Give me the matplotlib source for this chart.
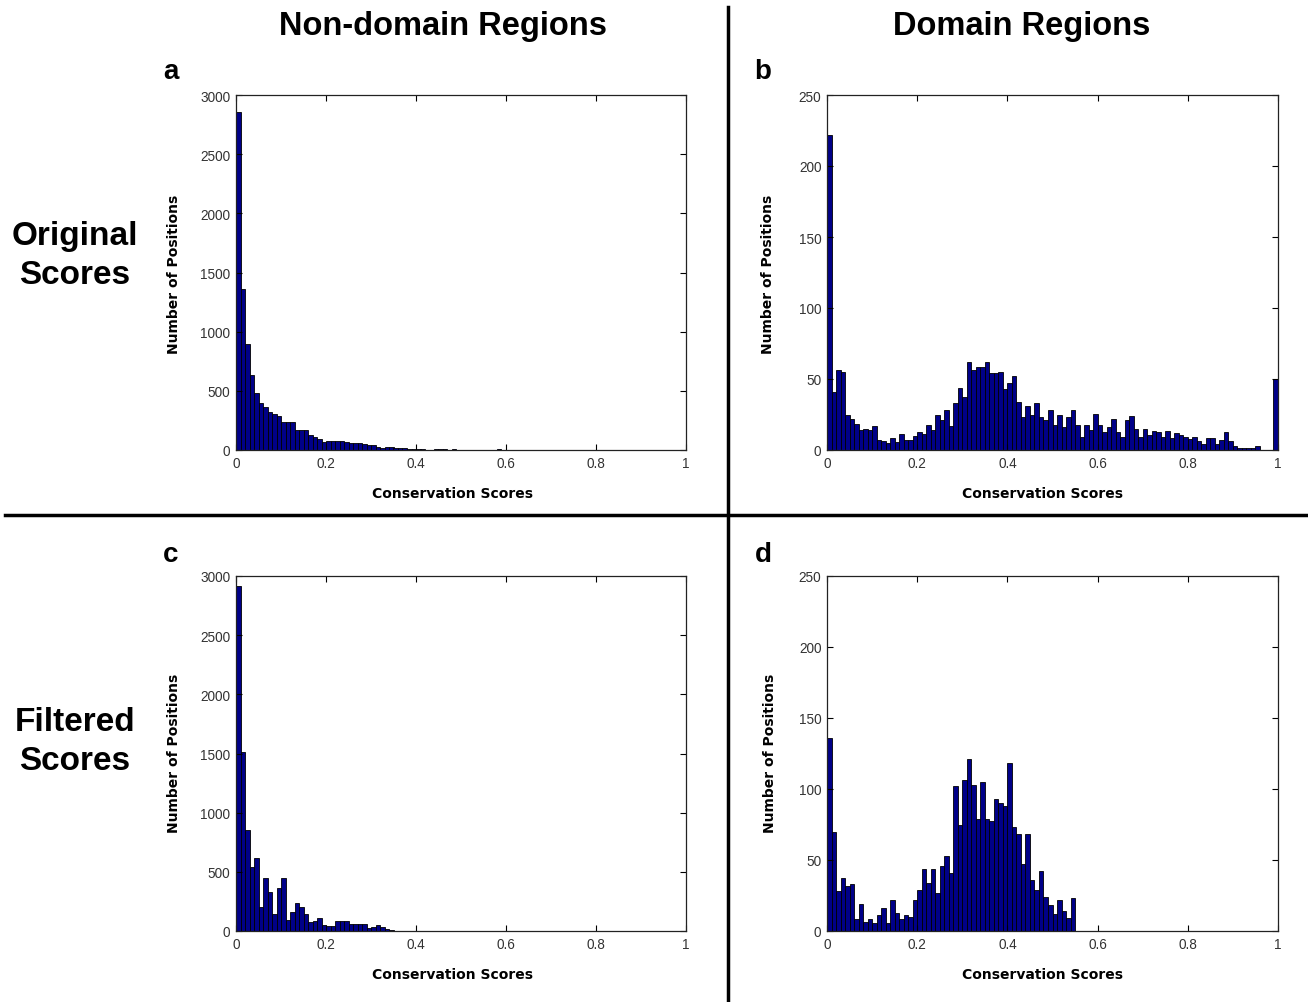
import numpy as np
import matplotlib
matplotlib.use("Agg")
import matplotlib.pyplot as plt
from matplotlib.lines import Line2D

plt.rcParams['font.family'] = ['Liberation Sans', 'DejaVu Sans']

# ---- data: counts per bin (100 bins of width 0.01 from 0 to 1) ----
bin_edges = [i / 100 for i in range(101)]

nondomain_original = [2860, 1360, 900, 635, 480, 395, 365, 325, 305, 290,
                      240, 235, 235, 168, 165, 170, 130, 110, 95, 70,
                      80, 76, 80, 80, 65, 60, 55, 55, 50, 42,
                      42, 28, 20, 25, 25, 14, 14, 14, 6, 6,
                      6, 6, 2, 2, 5, 5, 5, 0, 5, 0,
                      0, 0, 4, 0, 4, 0, 0, 0, 5, 0,
                      0, 0, 0, 0, 0, 0, 0, 0, 4, 0,
                      4, 0, 0, 0, 0, 0, 0, 0, 0, 0,
                      0, 0, 0, 0, 0, 0, 0, 0, 0, 4,
                      0, 0, 0, 0, 0, 0, 0, 0, 0, 3]

domain_original = [222, 41, 56, 55, 25, 22, 18, 14, 15, 14,
                   17, 7, 6.5, 5, 8.5, 5.5, 11, 7, 7, 10,
                   13, 11, 17.5, 14, 24.5, 21, 28, 17, 33, 44,
                   37, 62, 56.5, 58.5, 58.5, 62, 54, 54, 55, 43,
                   47, 52, 33.5, 23, 31, 25, 33, 23, 21, 28,
                   17.5, 24.5, 16.5, 23, 28.5, 17.5, 9.5, 17.5, 14, 25.5,
                   17.5, 13, 16.5, 21.5, 13, 9.5, 21, 24, 15, 9.5,
                   15, 10.5, 13.5, 13, 9.5, 13.5, 8.5, 12, 10.5, 9.5,
                   8, 9.5, 6.5, 4.5, 8.5, 8.5, 4.5, 7, 12.5, 6,
                   3, 1.5, 1.5, 1.5, 1.5, 2.5, 0, 0, 0, 50]

nondomain_filtered = [2913, 1510, 856, 538, 614, 200, 451, 327, 144, 363,
                      451, 96, 163, 234, 200, 144, 79, 87, 107, 50,
                      45, 45, 87, 87, 87, 55, 60, 55, 62, 22,
                      32, 51, 37, 18, 5, 4, 4, 0, 0, 0] + [0] * 60

domain_filtered = [136, 70, 28, 37, 32, 33, 8.5, 19, 6, 8.5,
                   5.5, 11, 16, 5.5, 22, 13, 8.5, 11, 10, 22,
                   29, 44, 34, 44, 27, 46, 52.5, 41, 102, 75,
                   106, 121, 103, 79, 105, 79, 77.5, 93, 90, 88,
                   118, 73, 68, 47, 68, 36, 29, 42, 24, 18,
                   12, 22, 14, 9, 23] + [0] * 45

column_titles = ["Non-domain Regions", "Domain Regions"]
row_titles = ["Original\nScores", "Filtered\nScores"]
panel_letters = ["a", "b", "c", "d"]
x_ticks = [0, 0.2, 0.4, 0.6, 0.8, 1]
x_tick_labels = ["0", "0.2", "0.4", "0.6", "0.8", "1"]
y_ticks_nondomain = [0, 500, 1000, 1500, 2000, 2500, 3000]
y_ticks_domain = [0, 50, 100, 150, 200, 250]
x_label = "Conservation Scores"
y_label = "Number of Positions"

# ---- figure ----
W, H = 1308, 1003
fig = plt.figure(figsize=(W / 100, H / 100), dpi=100)
fig.patch.set_facecolor('white')

def px_axes(left, top, right, bottom):
    return fig.add_axes([left / W, 1 - bottom / H, (right - left) / W, (bottom - top) / H])

# (axes, counts, y ticks, xlabel centre (x, y) px, ylabel centre (x, y) px)
panels = [
    (px_axes(236, 96, 686, 451), nondomain_original, y_ticks_nondomain, (452, 494), (174, 274)),
    (px_axes(827, 96, 1278, 451), domain_original, y_ticks_domain, (1042, 494), (768, 274)),
    (px_axes(236, 577, 686, 932), nondomain_filtered, y_ticks_nondomain, (452, 975), (174, 753)),
    (px_axes(827, 577, 1278, 932), domain_filtered, y_ticks_domain, (1042, 975), (770, 753)),
]

bar_color = '#000088'
for ax, counts, yt, (xlx, xly), (ylx, yly) in panels:
    ax.bar(bin_edges[:-1], counts, width=0.01, align='edge',
           color=bar_color, edgecolor='black', linewidth=0.6)
    ax.set_xlim(0, 1)
    ax.set_ylim(yt[0], yt[-1])
    ax.set_xticks(x_ticks)
    ax.set_xticklabels(x_tick_labels)
    ax.set_yticks(yt)
    ax.set_yticklabels([str(v) for v in yt])
    ax.tick_params(direction='in', top=True, right=True, length=4, width=0.8,
                   labelsize=9.8, labelcolor='#333333', pad=4)
    for s in ax.spines.values():
        s.set_linewidth(0.9)
        s.set_color('#222222')
    fig.text(xlx / W, 1 - xly / H, x_label, ha='center', va='center',
             fontsize=10, fontweight='bold', family='DejaVu Sans')
    fig.text(ylx / W, 1 - yly / H, y_label, ha='center', va='center', rotation=90,
             fontsize=10, fontweight='bold', family='DejaVu Sans')

# column titles
fig.text(443 / W, 1 - 26 / H, column_titles[0], ha='center', va='center',
         fontsize=23.5, fontweight='bold')
fig.text(1022 / W, 1 - 26 / H, column_titles[1], ha='center', va='center',
         fontsize=23.5, fontweight='bold')

# row titles
fig.text(75 / W, 1 - 256 / H, row_titles[0], ha='center', va='center',
         fontsize=24, fontweight='bold', linespacing=1.3)
fig.text(75 / W, 1 - 742 / H, row_titles[1], ha='center', va='center',
         fontsize=24, fontweight='bold', linespacing=1.3)

# panel letters
for (lx, ly), letter in zip([(171, 72), (763, 72), (171, 555), (763, 555)], panel_letters):
    fig.text(lx / W, 1 - ly / H, letter, ha='center', va='center',
             fontsize=20, fontweight='bold')

# divider lines
fig.add_artist(Line2D([728 / W, 728 / W], [1 - 8 / H, 0], color='black', linewidth=2.5))
fig.add_artist(Line2D([5 / W, 1], [1 - 516 / H, 1 - 516 / H], color='black', linewidth=2.5))

fig.savefig('out.png', dpi=100, facecolor='white')
